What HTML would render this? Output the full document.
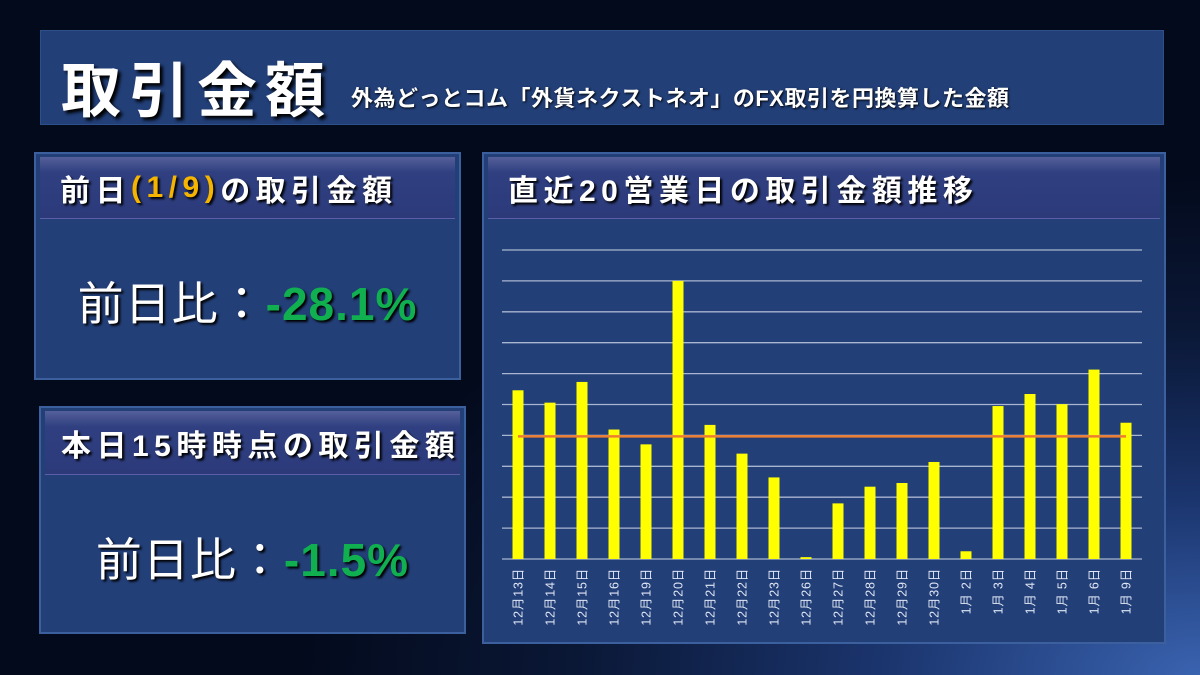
<!DOCTYPE html>
<html><head><meta charset="utf-8">
<style>
*{margin:0;padding:0;box-sizing:border-box}
body{width:1200px;height:675px;overflow:hidden;position:relative;font-family:"Liberation Sans","Noto Sans CJK JP",sans-serif;
background:radial-gradient(ellipse 900px 500px at 1200px 675px,#3a63b0 0%,#1b356e 35%,#0a1735 70%,#030a1c 100%);}
.box{position:absolute;background:#233f78;border:2px solid #3c5f9e;}
.hdr{position:absolute;left:4px;right:4px;top:3px;background:linear-gradient(#55609a 0%,#2f3f80 25%,#2c3a7a 100%);border-bottom:1px solid #5a5fa8;color:#fff;font-weight:bold;text-shadow:2px 2px 2px #000;padding-left:20px;display:flex;align-items:center;font-size:30px;letter-spacing:5.5px;white-space:nowrap}
.big{position:absolute;left:0;right:0;text-align:center;color:#fff;font-size:46px;text-shadow:2px 2px 2px #000;letter-spacing:1px;white-space:nowrap}
.g{color:#10b050;font-weight:bold}
</style></head><body>
<div class="box" style="left:40px;top:30px;width:1124px;height:95px;border:1px solid #2d4f8a;background:#223f78">
 <span style="position:absolute;left:20px;top:12px;font-size:60px;letter-spacing:8px;font-weight:bold;color:#fff;text-shadow:3px 3px 3px #000;white-space:nowrap">取引金額</span>
 <span style="position:absolute;left:310px;top:50px;font-size:22px;letter-spacing:0.5px;font-weight:bold;color:#fff;text-shadow:1px 1px 2px #000;white-space:nowrap">外為どっとコム「外貨ネクストネオ」のFX取引を円換算した金額</span>
</div>
<div class="box" style="left:34px;top:152px;width:427px;height:228px">
 <div class="hdr" style="height:62px">前日<span style="color:#f5b400">(1/9)</span>の取引金額</div>
 <div class="big" style="top:114px">前日比：<span class="g">-28.1%</span></div>
</div>
<div class="box" style="left:39px;top:406px;width:427px;height:228px">
 <div class="hdr" style="height:64px;padding-left:16px">本日15時時点の取引金額</div>
 <div class="big" style="top:116px">前日比：<span class="g">-1.5%</span></div>
</div>
<div class="box" style="left:482px;top:152px;width:684px;height:492px">
 <div class="hdr" style="height:62px">直近20営業日の取引金額推移</div>
</div>
<svg id="chart" width="1200" height="675" style="position:absolute;left:0;top:0"></svg>
<script>
const categories=["12月13日","12月14日","12月15日","12月16日","12月19日","12月20日","12月21日","12月22日","12月23日","12月26日","12月27日","12月28日","12月29日","12月30日","1月 2日","1月 3日","1月 4日","1月 5日","1月 6日","1月 9日"];
const values=[5.46,5.06,5.73,4.19,3.71,9.0,4.34,3.41,2.64,0.06,1.80,2.34,2.46,3.14,0.25,4.95,5.34,5.01,6.13,4.41];
const average=[3.97];
const yMax=10, gridCount=10;
const X0=502,X1=1142,Y0=559,Y1=250;
const svg=document.getElementById('chart');
const NS='http://www.w3.org/2000/svg';
const bw=(X1-X0)/categories.length;
const xs=i=>X0+bw*(i+0.5);
const ys=v=>Y0-(v/yMax)*(Y0-Y1);
function mk(t,a){const e=document.createElementNS(NS,t);for(const k in a)e.setAttribute(k,a[k]);svg.appendChild(e);return e;}
for(let g=0;g<=gridCount;g++){
 const y=ys(yMax*g/gridCount);
 const l=mk('line',{x1:X0,x2:X1,y1:y,y2:y,stroke:'#a9b6cf','stroke-width':1.3});
 
 
}
values.forEach((v,i)=>{
 const r=mk('rect',{x:xs(i)-5.5,y:ys(v),width:11,height:Y0-ys(v),fill:'#ffff00'});
 
 
 const t=mk('text',{x:0,y:0,transform:`translate(${xs(i)+4.5},568) rotate(-90)`,'text-anchor':'end',fill:'#dfe6f5','font-size':12.5,'letter-spacing':0.8,'font-family':'"Liberation Sans","Noto Sans CJK JP",sans-serif'});
 t.textContent=categories[i];
 
 
});
const ay=ys(average[0]);
const al=mk('line',{x1:xs(0),x2:xs(categories.length-1),y1:ay,y2:ay,stroke:'#ed7d31','stroke-width':2.5});


</script>
</body></html>
